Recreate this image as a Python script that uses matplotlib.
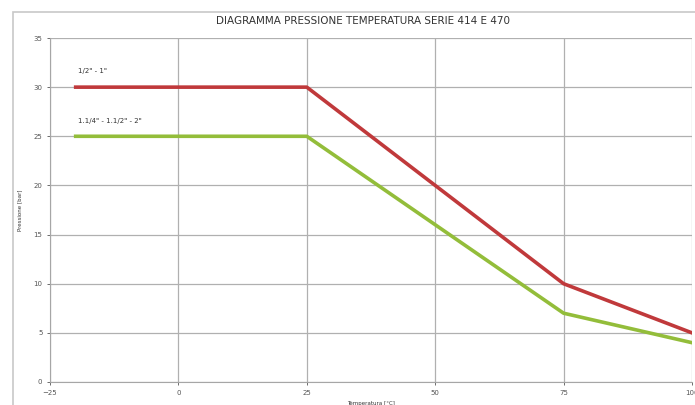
import matplotlib.pyplot as plt
from matplotlib.patches import Rectangle

# dati
temp_small = [-20, 25, 75, 100]
press_small = [30, 30, 10, 5]      # 1/2" - 1"
temp_large = [-20, 25, 75, 100]
press_large = [25, 25, 7, 4]       # 1.1/4" - 1.1/2" - 2"
label_small = '1/2" - 1"'
label_large = '1.1/4" - 1.1/2" - 2"'
x_ticks = [-25, 0, 25, 50, 75, 100]
y_ticks = [0, 5, 10, 15, 20, 25, 30, 35]

fig = plt.figure(figsize=(6.95, 4.05), dpi=100)
ax = fig.add_axes([50 / 695, 1 - 382 / 405, 642 / 695, 344 / 405])

# cornice del grafico stile Excel
fig.patches.append(Rectangle((13 / 695, -0.1), 1.2, 1 - 12 / 405 + 0.1,
                             transform=fig.transFigure, fill=False,
                             edgecolor='#c8c8c8', linewidth=1.2))

ax.plot(temp_small, press_small, color='#c0393b', linewidth=2.6)
ax.plot(temp_large, press_large, color='#93bd3a', linewidth=2.6)

ax.text(-19.5, 31.6, label_small, fontsize=5, color='#333333', va='center')
ax.text(-19.5, 26.6, label_large, fontsize=5, color='#333333', va='center')

ax.set_xlim(-25, 100)
ax.set_ylim(0, 35)
ax.set_xticks(x_ticks)
ax.set_yticks(y_ticks)
ax.tick_params(axis='both', labelsize=5, colors='#555555', length=2, width=0.6)
ax.grid(True, color='#b0b0b0', linewidth=0.9)
ax.set_axisbelow(True)

for side in ['top', 'right']:
    ax.spines[side].set_visible(False)
for side in ['left', 'bottom']:
    ax.spines[side].set_color('#a6a6a6')

ax.set_xlabel('Temperatura [°C]', fontsize=4, color='#333333', labelpad=4)
ax.set_ylabel('Pressione [bar]', fontsize=4, color='#333333', labelpad=8)

fig.text(363 / 695, 1 - 21 / 405, 'DIAGRAMMA PRESSIONE TEMPERATURA SERIE 414 E 470',
         ha='center', va='center', fontsize=7.5, color='#333333')

fig.savefig('out.png', dpi=100)
